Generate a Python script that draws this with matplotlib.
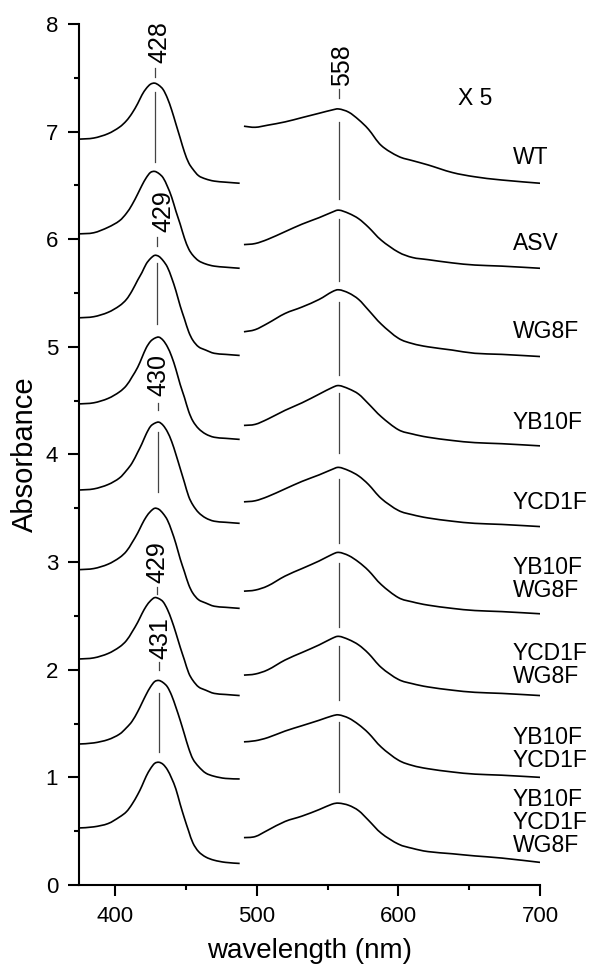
import matplotlib
matplotlib.use("Agg")
import matplotlib.pyplot as plt
import numpy as np
from matplotlib.path import Path
from matplotlib.patches import PathPatch
from matplotlib.ticker import MultipleLocator

plt.rcParams['font.family'] = ['Liberation Sans', 'DejaVu Sans']

# wavelength grids (nm) for the Soret part and the x5 Q-band part
soret_nm = [375, 385, 395, 403, 408, 412, 416, 419, 422, 425, 428, 431, 434,
            437, 440, 443, 446, 449, 452, 455, 459, 464, 470, 478, 488]
q_nm = [491, 499, 508, 520, 532, 544, 553, 558, 565, 572, 579, 588, 600,
        610, 621, 638, 654, 673, 700]

# offset spectra, top to bottom
soret_wt = [6.93, 6.94, 6.98, 7.04, 7.10, 7.17, 7.26, 7.34, 7.40, 7.44, 7.45, 7.43, 7.39,
            7.31, 7.20, 7.07, 6.94, 6.81, 6.71, 6.65, 6.59, 6.56, 6.54, 6.53, 6.52]
soret_asv = [6.05, 6.06, 6.11, 6.17, 6.24, 6.32, 6.42, 6.50, 6.57, 6.62, 6.63, 6.61, 6.57,
             6.49, 6.39, 6.26, 6.14, 6.01, 5.91, 5.85, 5.80, 5.77, 5.75, 5.74, 5.73]
soret_wg8f = [5.27, 5.28, 5.32, 5.38, 5.44, 5.52, 5.62, 5.69, 5.77, 5.82, 5.85, 5.84, 5.80,
              5.74, 5.64, 5.52, 5.38, 5.26, 5.14, 5.06, 5.00, 4.97, 4.94, 4.93, 4.92]
soret_yb10f = [4.47, 4.48, 4.52, 4.58, 4.64, 4.72, 4.81, 4.90, 4.99, 5.05, 5.08, 5.09, 5.06,
               5.00, 4.91, 4.79, 4.65, 4.53, 4.40, 4.31, 4.24, 4.19, 4.16, 4.15, 4.14]
soret_ycd1f = [3.67, 3.68, 3.72, 3.78, 3.85, 3.92, 4.02, 4.10, 4.19, 4.26, 4.29, 4.30, 4.27,
               4.21, 4.12, 4.00, 3.87, 3.74, 3.61, 3.53, 3.46, 3.41, 3.38, 3.37, 3.36]
soret_yb_wg = [2.93, 2.94, 2.98, 3.04, 3.10, 3.18, 3.27, 3.35, 3.42, 3.47, 3.50, 3.49, 3.45,
               3.39, 3.29, 3.17, 3.03, 2.91, 2.79, 2.71, 2.65, 2.62, 2.59, 2.58, 2.57]
soret_ycd_wg = [2.10, 2.11, 2.15, 2.21, 2.27, 2.35, 2.44, 2.52, 2.59, 2.64, 2.67, 2.66, 2.63,
                2.56, 2.46, 2.34, 2.21, 2.09, 1.97, 1.90, 1.84, 1.81, 1.78, 1.77, 1.76]
soret_yb_ycd = [1.31, 1.32, 1.35, 1.40, 1.46, 1.52, 1.61, 1.69, 1.77, 1.84, 1.89, 1.90, 1.88,
                1.84, 1.76, 1.65, 1.53, 1.40, 1.27, 1.17, 1.10, 1.04, 1.01, 0.99, 0.985]
soret_triple = [0.53, 0.54, 0.57, 0.63, 0.68, 0.75, 0.84, 0.92, 1.01, 1.08, 1.13, 1.14, 1.12,
                1.07, 0.99, 0.89, 0.75, 0.62, 0.50, 0.39, 0.31, 0.26, 0.23, 0.21, 0.20]

q_wt = [7.05, 7.04, 7.06, 7.09, 7.13, 7.17, 7.20, 7.21, 7.18, 7.11, 7.02, 6.87, 6.77,
        6.73, 6.69, 6.62, 6.58, 6.55, 6.52]
q_asv = [5.95, 5.96, 6.00, 6.07, 6.14, 6.20, 6.25, 6.27, 6.24, 6.19, 6.11, 5.99, 5.88,
         5.83, 5.81, 5.78, 5.76, 5.75, 5.73]
q_wg8f = [5.14, 5.16, 5.22, 5.31, 5.37, 5.44, 5.51, 5.53, 5.50, 5.44, 5.34, 5.21, 5.08,
          5.03, 5.00, 4.97, 4.94, 4.93, 4.91]
q_yb10f = [4.27, 4.28, 4.33, 4.41, 4.48, 4.56, 4.62, 4.64, 4.61, 4.56, 4.47, 4.35, 4.23,
           4.19, 4.16, 4.13, 4.11, 4.10, 4.08]
q_ycd1f = [3.56, 3.57, 3.61, 3.68, 3.75, 3.81, 3.86, 3.88, 3.85, 3.80, 3.72, 3.59, 3.48,
           3.44, 3.41, 3.38, 3.36, 3.35, 3.33]
q_yb_wg = [2.73, 2.74, 2.78, 2.87, 2.94, 3.01, 3.07, 3.09, 3.06, 3.00, 2.92, 2.79, 2.67,
           2.63, 2.60, 2.57, 2.55, 2.54, 2.52]
q_ycd_wg = [1.95, 1.96, 2.00, 2.09, 2.16, 2.23, 2.29, 2.31, 2.28, 2.23, 2.15, 2.02, 1.91,
            1.87, 1.84, 1.81, 1.79, 1.78, 1.76]
q_yb_ycd = [1.33, 1.34, 1.37, 1.43, 1.48, 1.53, 1.57, 1.58, 1.55, 1.49, 1.41, 1.28, 1.16,
            1.11, 1.08, 1.05, 1.03, 1.02, 1.00]
q_triple = [0.44, 0.45, 0.51, 0.59, 0.64, 0.70, 0.75, 0.76, 0.74, 0.69, 0.60, 0.48, 0.38,
            0.34, 0.31, 0.29, 0.27, 0.25, 0.21]

names = ['WT', 'ASV', 'WG8F', 'YB10F', 'YCD1F', 'YB10F\nWG8F', 'YCD1F\nWG8F',
         'YB10F\nYCD1F', 'YB10F\nYCD1F\nWG8F']
name_y = [6.76, 5.96, 5.14, 4.30, 3.55, 2.84, 2.04, 1.26, 0.58]

# Soret maxima marks: wavelength, label, label centre, dash, drop line
soret_peak_nm = [428, 429.5, 430, 429.5, 431]
soret_peak_txt = ['428', '429', '430', '429', '431']
soret_txt_x = [431, 434, 430.4, 429.7, 431.8]
soret_txt_y = [7.83, 6.26, 4.74, 3.00, 2.29]
soret_dash = [(7.51, 7.59), (5.94, 6.02), (4.41, 4.48), (2.70, 2.77), (2.00, 2.07)]
soret_drop = [(6.72, 7.37), (5.21, 5.78), (3.65, 4.21), None, (1.24, 1.78)]

# Q-band maximum mark
q_peak_nm = 558
q_segments = [(7.31, 7.40), (6.37, 7.09), (5.61, 6.19), (4.74, 5.42), (4.01, 4.57),
              (3.18, 3.77), (2.40, 2.99), (1.72, 2.22), (0.86, 1.51)]

soret_all = [soret_wt, soret_asv, soret_wg8f, soret_yb10f, soret_ycd1f,
             soret_yb_wg, soret_ycd_wg, soret_yb_ycd, soret_triple]
q_all = [q_wt, q_asv, q_wg8f, q_yb10f, q_ycd1f, q_yb_wg, q_ycd_wg, q_yb_ycd, q_triple]


def smooth_curve(x, y):
    # Catmull-Rom through the read points, drawn as cubic Bezier pieces
    p = np.column_stack([x, y]).astype(float)
    p = np.vstack([p[0], p, p[-1]])
    verts = [p[1]]
    codes = [Path.MOVETO]
    for i in range(1, len(p) - 2):
        c1 = p[i] + (p[i + 1] - p[i - 1]) / 6.0
        c2 = p[i + 1] - (p[i + 2] - p[i]) / 6.0
        verts += [c1, c2, p[i + 1]]
        codes += [Path.CURVE4] * 3
    return Path(verts, codes)


fig = plt.figure(figsize=(5.96, 9.74), dpi=100)
ax = fig.add_axes([0.1326, 0.0914, 0.7735, 0.884])

for s, q in zip(soret_all, q_all):
    for xs, ys in [(soret_nm, s), (q_nm, q)]:
        ax.add_patch(PathPatch(smooth_curve(xs, ys), fill=False, edgecolor='black',
                               lw=1.2, joinstyle='round'))

# peak marker lines
mark_kw = dict(color='#444444', lw=0.9)
for nm, txt, tx, ty, dash, drop in zip(soret_peak_nm, soret_peak_txt, soret_txt_x,
                                        soret_txt_y, soret_dash, soret_drop):
    ax.plot([nm, nm], dash, **mark_kw)
    if drop is not None:
        ax.plot([nm, nm], drop, **mark_kw)
    ax.text(tx, ty, txt, rotation=90, ha='center', va='center', fontsize=18)

for seg in q_segments:
    ax.plot([q_peak_nm, q_peak_nm], seg, **mark_kw)
ax.text(560.4, 7.62, '558', rotation=90, ha='center', va='center', fontsize=18)

ax.text(654.4, 7.31, 'X 5', ha='center', va='center', fontsize=16.5)
for nm, y in zip(names, name_y):
    ax.text(680.6, y, nm, ha='left', va='center', fontsize=16.5, linespacing=1.0)

ax.set_xlim(374.6, 700)
ax.set_ylim(0, 8)
ax.xaxis.set_major_locator(MultipleLocator(100))
ax.xaxis.set_minor_locator(MultipleLocator(50))
ax.yaxis.set_major_locator(MultipleLocator(1))
ax.yaxis.set_minor_locator(MultipleLocator(0.5))

for side in ['top', 'right']:
    ax.spines[side].set_visible(False)
for side in ['left', 'bottom']:
    ax.spines[side].set_linewidth(1.5)

ax.tick_params(which='major', direction='out', length=8, width=1.5, labelsize=16, pad=7)
ax.tick_params(which='minor', direction='out', length=3.5, width=1.5)

ax.set_xlabel('wavelength (nm)', fontsize=20)
ax.set_ylabel('Absorbance', fontsize=21)
ax.xaxis.set_label_coords(0.5, -0.062)
ax.yaxis.set_label_coords(-0.088, 0.5)

fig.savefig('out.png', dpi=100)
